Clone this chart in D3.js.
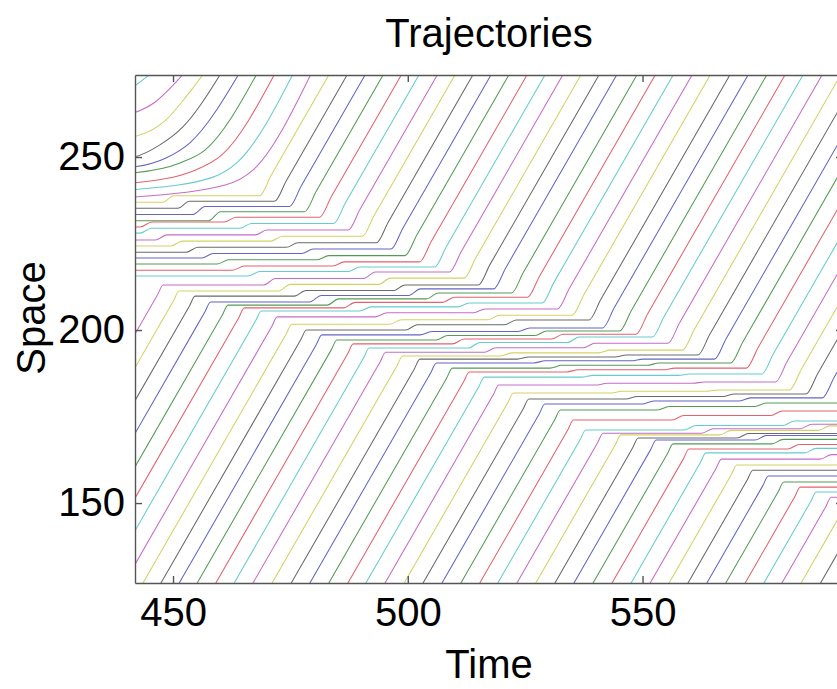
<!DOCTYPE html>
<html><head><meta charset="utf-8">
<script src="https://cdn.jsdelivr.net/npm/d3@7"></script>
<style>
body{margin:0;background:#fff}
svg{display:block}
text{font-family:"Liberation Sans",Arial,Helvetica,sans-serif;fill:#000}
</style>
</head><body>
<svg id="chart" width="837" height="689"></svg>
<script>
const xTicks = [450, 500, 550];
const yTicks = [150, 200, 250];
const xDomain = [441.9, 592.7];
const yDomain = [126.9, 273.7];
const lineColors = ["#6565c4", "#559b55", "#e2626f", "#66cccc", "#c66cc6", "#d2d264", "#6a6a6a"];
const firstColor = 3;          // colour index of the first (leading) trajectory
const freeSpeed = 2.36;        // free-flow slope, space per time

// leading vehicles already accelerating out of the jam: knots [t, s, ...]
const lead00 = [425, 258.5, 441.5, 270.2, 447.0, 276.0];
const lead01 = [425, 259.0, 441.5, 262.7, 446.2, 265.9, 449.4, 269.9, 452.6, 274.6];
const lead02 = [425, 253.5, 441.5, 255.8, 448.5, 260.7, 452.6, 267.1, 456.8, 274.6];
const lead03 = [425, 248.5, 441.5, 250.0, 447.2, 253.5, 452.1, 258.7, 460.4, 274.6];
const lead04 = [425, 245.8, 441.5, 247.1, 448.5, 249.7, 453.6, 254.1, 464.3, 274.6];
const lead05 = [425, 244.2, 441.5, 245.4, 451.5, 248.3, 456.8, 252.0, 468.1, 274.6];
const lead06 = [425, 241.3, 441.5, 242.5, 454.7, 246.2, 460.4, 250.6, 471.9, 274.6];
const lead07 = [425, 239.3, 441.5, 240.5, 457.9, 243.9, 463.8, 248.6, 475.8, 274.6];
const lead08 = [425, 237.3, 441.5, 238.4, 461.1, 241.9, 467.0, 246.2, 479.6, 274.6];

// vehicles passing through the jam: stops [s, tStart, tEnd, ...]
const stops09 = [236.9, 420, 447.7, 238.8, 450.2, 468.4];
const stops10 = [235.2, 420, 451.0, 237.2, 453.5, 471.6];
const stops11 = [233.4, 420, 454.3, 235.7, 456.8, 474.8];
const stops12 = [231.6, 420, 457.6, 234.2, 460.1, 478.0];
const stops13 = [229.8, 420, 443.0, 231.2, 445.5, 460.9, 232.6, 463.4, 481.2];
const stops14 = [228.0, 420, 442.9, 229.4, 445.4, 464.2, 230.8, 466.7, 484.2];
const stops15 = [226.0, 420, 446.2, 227.5, 448.7, 467.5, 228.9, 470.0, 487.3];
const stops16 = [224.3, 420, 449.5, 225.7, 452.0, 470.8, 227.1, 473.3, 490.3];
const stops17 = [222.5, 420, 452.8, 223.9, 455.3, 474.1, 225.2, 476.6, 493.3];
const stops18 = [220.8, 420, 456.1, 222.1, 458.6, 477.4, 223.4, 479.9, 496.4];
const stops19 = [219.1, 420, 459.4, 220.3, 461.9, 480.7, 221.5, 483.2, 499.4];
const stops20 = [217.3, 420, 462.7, 218.5, 465.2, 484.0, 219.7, 486.5, 502.5];
const stops21 = [215.6, 420, 466.0, 216.9, 468.5, 487.3, 218.2, 489.8, 505.7];
const stops22 = [213.0, 447.9, 469.3, 214.9, 471.8, 490.6, 216.8, 493.1, 508.9];
const stops23 = [211.3, 451.3, 472.5, 213.2, 475.0, 493.8, 215.0, 496.3, 512.0];
const stops24 = [209.8, 454.7, 475.8, 211.4, 478.3, 496.9, 213.0, 499.4, 515.0];
const stops25 = [208.1, 458.0, 479.1, 210.0, 481.6, 500.2, 211.9, 502.7, 518.3];
const stops26 = [207.2, 461.7, 482.8, 209.0, 485.3, 504.0, 210.7, 506.5, 522.1];
const stops27 = [206.4, 465.2, 486.3, 208.0, 488.8, 507.4, 209.5, 509.9, 525.5];
const stops28 = [205.5, 468.8, 489.7, 206.7, 492.2, 510.6, 207.8, 513.1, 528.6];
const stops29 = [203.8, 472.2, 493.1, 205.0, 495.6, 514.0, 206.1, 516.5, 531.9];
const stops30 = [201.7, 475.3, 496.2, 203.0, 498.7, 517.1, 204.3, 519.6, 535.0];
const stops31 = [200.0, 478.4, 499.5, 201.5, 502.0, 520.6, 202.9, 523.1, 538.6];
const stops32 = [198.6, 481.7, 502.6, 199.6, 505.1, 523.5, 200.6, 526.0, 541.5];
const stops33 = [197.1, 484.9, 506.0, 198.4, 508.5, 527.1, 199.7, 529.6, 545.1];
const stops34 = [196.0, 488.4, 509.5, 197.4, 512.0, 530.6, 198.8, 533.1, 548.6];
const stops35 = [194.8, 491.8, 512.9, 196.4, 515.4, 534.0, 198.0, 536.5, 552.1];
const stops36 = [193.6, 495.3, 516.3, 194.9, 518.8, 537.4, 196.2, 539.9, 555.4];
const stops37 = [192.5, 498.9, 519.7, 193.4, 522.2, 540.6, 194.2, 543.1, 558.5];
const stops38 = [191.6, 502.6, 523.3, 192.2, 525.8, 544.1, 192.8, 546.6, 561.8];
const stops39 = [190.5, 506.1, 526.8, 191.1, 529.3, 547.6, 191.6, 550.1, 565.3];
const stops40 = [189.0, 509.5, 530.3, 189.8, 532.8, 551.0, 190.5, 553.5, 568.8];
const stops41 = [187.9, 513.1, 533.8, 188.5, 536.3, 554.4, 189.0, 556.9, 572.1];
const stops42 = [186.4, 516.3, 537.0, 186.9, 539.5, 557.6, 187.3, 560.1, 575.4];
const stops43 = [184.1, 519.4, 540.0, 184.6, 542.5, 560.7, 185.0, 563.2, 578.3];
const stops44 = [181.8, 522.5, 543.1, 182.3, 545.6, 563.7, 182.7, 566.2, 581.3];
const stops45 = [180.1, 525.8, 546.4, 180.8, 548.9, 567.1, 181.5, 569.6, 584.8];
const stops46 = [178.6, 529.2, 549.9, 179.5, 552.4, 570.5, 180.4, 573.0, 588.3];
const stops47 = [176.9, 532.5, 553.2, 177.9, 555.7, 573.9, 178.9, 576.4, 591.6];
const stops48 = [174.0, 535.3, 556.3, 175.3, 558.8, 577.3, 176.6, 579.8, 595.3];
const stops49 = [171.1, 537.9, 558.9, 172.4, 561.4, 579.9, 173.7, 582.4, 598.0];
const stops50 = [170.2, 541.6, 562.6, 171.5, 565.1, 583.6, 172.8, 586.1, 602.0];
const stops51 = [169.7, 545.4, 566.4, 171.0, 568.9, 587.4, 172.3, 589.9, 606.0];
const stops52 = [168.8, 549.1, 570.1, 170.1, 572.6, 591.1, 171.4, 593.6, 610.0];
const stops53 = [168.2, 552.9, 573.9, 169.5, 576.4, 594.9];
const stops54 = [167.1, 556.5, 577.5, 168.4, 580.0, 598.5];
const stops55 = [165.6, 559.9, 580.9, 166.9, 583.4, 601.9];
const stops56 = [164.5, 563.5, 584.5, 165.8, 587.0, 605.5];
const stops57 = [162.7, 566.8, 587.8, 164.0, 590.3, 608.8];
const stops58 = [161.0, 570.1, 591.1, 162.3, 593.6, 612.0];
const stops59 = [159.5, 573.5, 594.5];
const stops60 = [157.8, 576.8, 597.8];
const stops61 = [156.1, 580.1, 601.1];
const stops62 = [154.6, 583.6, 604.6];
const stops63 = [153.2, 587.0, 608.0];
const stops64 = [151.7, 590.2, 611.0];
const stops65 = [150.3, 593.7, 614.0];
const stops66 = [148.8, 597.2, 618.0];
const stops67 = [147.4, 600.6, 622.0];

const leadKnots = [lead00, lead01, lead02, lead03, lead04, lead05, lead06, lead07, lead08];
const stopLists = [stops09, stops10, stops11, stops12, stops13, stops14, stops15, stops16, stops17, stops18,
  stops19, stops20, stops21, stops22, stops23, stops24, stops25, stops26, stops27, stops28, stops29, stops30,
  stops31, stops32, stops33, stops34, stops35, stops36, stops37, stops38, stops39, stops40, stops41, stops42,
  stops43, stops44, stops45, stops46, stops47, stops48, stops49, stops50, stops51, stops52, stops53, stops54,
  stops55, stops56, stops57, stops58, stops59, stops60, stops61, stops62, stops63, stops64, stops65, stops66, stops67];

const svg = d3.select("#chart");
svg.append("rect").attr("width", 837).attr("height", 689).attr("fill", "#fff");
const L = 135, R = 843, T = 75, B = 583;
const x = d3.scaleLinear().domain(xDomain).range([L, R]);
const y = d3.scaleLinear().domain(yDomain).range([B, T]);

svg.append("clipPath").attr("id", "clip").append("rect")
  .attr("x", L).attr("y", T).attr("width", R - L).attr("height", B - T);

const line = d3.line().x(d => x(d[0])).y(d => y(d[1])).curve(d3.curveMonotoneX);
const g = svg.append("g").attr("clip-path", "url(#clip)");

function pairs(arr) {
  const p = [];
  for (let k = 0; k < arr.length; k += 2) p.push([arr[k], arr[k + 1]]);
  return p;
}
function stopPath(arr) {
  const flats = [];
  for (let k = 0; k < arr.length; k += 3) flats.push([arr[k], arr[k + 1], arr[k + 2]]);
  const first = flats[0], last = flats[flats.length - 1];
  const sLow = yDomain[0] - 15, sHigh = yDomain[1] + 15, dIn = 1.2, dOut = 2.5;
  const p = [];
  p.push([first[1] - (first[0] - sLow) / freeSpeed, sLow]);
  p.push([first[1] - dIn, first[0] - freeSpeed * dIn]);
  flats.forEach(f => { p.push([f[1], f[0]]); p.push([f[2], f[0]]); });
  p.push([last[2] + dOut, last[0] + freeSpeed * dOut]);
  p.push([last[2] + (sHigh - last[0]) / freeSpeed, sHigh]);
  return p;
}
const paths = leadKnots.map(pairs).concat(stopLists.map(stopPath));
paths.forEach((pts, i) => {
  g.append("path").attr("d", line(pts)).attr("fill", "none")
    .attr("stroke", lineColors[(i + firstColor) % lineColors.length]).attr("stroke-width", 1.05);
});

const axisColor = "#555";
const fs = 40;
const axB = svg.append("g").attr("transform", `translate(0,${B})`)
  .call(d3.axisBottom(x).tickValues(xTicks).tickSizeInner(-7).tickSizeOuter(0).tickPadding(15).tickFormat(d3.format("d")));
const axT = svg.append("g").attr("transform", `translate(0,${T})`)
  .call(d3.axisTop(x).tickValues(xTicks).tickSizeInner(-7).tickSizeOuter(0).tickFormat(""));
const axL = svg.append("g").attr("transform", `translate(${L},0)`)
  .call(d3.axisLeft(y).tickValues(yTicks).tickSizeInner(-7).tickSizeOuter(0).tickPadding(10).tickFormat(d3.format("d")));
const axR = svg.append("g").attr("transform", `translate(${R},0)`)
  .call(d3.axisRight(y).tickValues(yTicks).tickSizeInner(-7).tickSizeOuter(0).tickFormat(""));
[axB, axT, axL, axR].forEach(a => {
  a.selectAll("path.domain").attr("stroke", axisColor).attr("stroke-width", 1.4);
  a.selectAll(".tick line").attr("stroke", axisColor).attr("stroke-width", 1.4);
  a.selectAll(".tick text").attr("font-size", fs).attr("fill", "#000")
    .attr("font-family", '"Liberation Sans",Arial,Helvetica,sans-serif');
});

svg.append("text").attr("x", 489).attr("y", 47).attr("text-anchor", "middle").attr("font-size", fs).text("Trajectories");
svg.append("text").attr("x", 489).attr("y", 678).attr("text-anchor", "middle").attr("font-size", fs).text("Time");
svg.append("text").attr("transform", "translate(45,318) rotate(-90)").attr("text-anchor", "middle").attr("font-size", fs).text("Space");
</script>
</body></html>
